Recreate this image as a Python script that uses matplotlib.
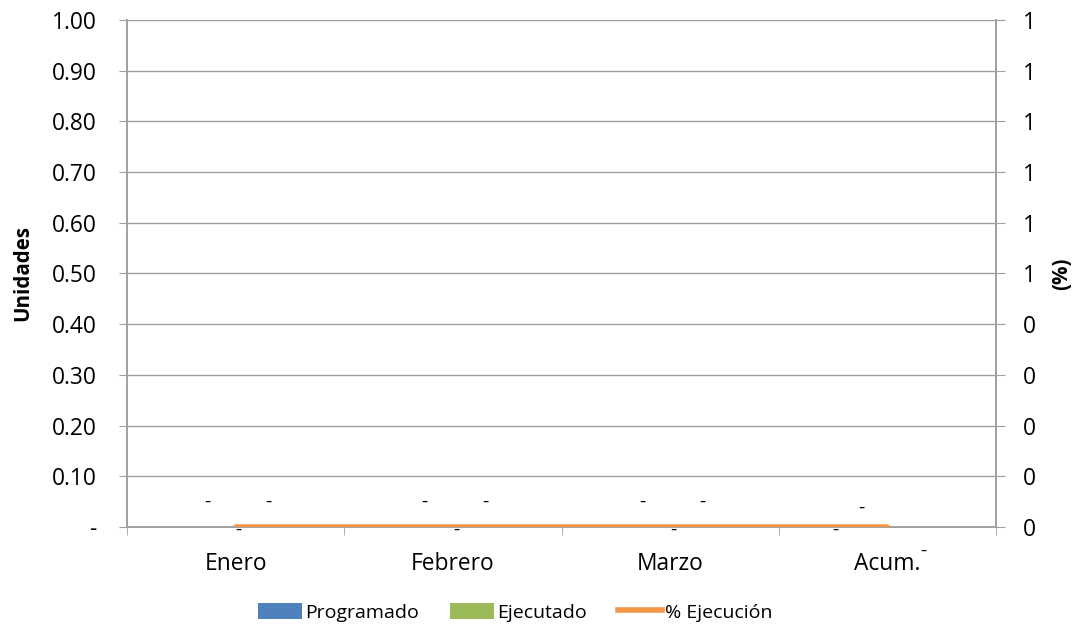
import matplotlib.pyplot as plt
import numpy as np
from matplotlib.patches import Patch
from matplotlib.lines import Line2D
from matplotlib.ticker import FuncFormatter, MultipleLocator

plt.rcParams["font.family"] = ["Open Sans", "DejaVu Sans"]

categories = ["Enero", "Febrero", "Marzo", "Acum."]
programado = [0, 0, 0, 0]
ejecutado = [0, 0, 0, 0]
pct_ejecucion = [0, 0, 0, 0]

BLUE = "#4F81BD"
GREEN = "#9BBB59"
ORANGE = "#F79646"
GRID = "#A0A0A0"
FS = 16.4
FS_LAB = 14.8
FS_LEG = 14

fig = plt.figure(figsize=(10.76, 6.37), dpi=100)
ax = fig.add_axes([0.118, 0.1727, 0.8077, 0.7959])
ax2 = ax.twinx()

x = np.arange(len(categories))
width = 0.28
ax.bar(x - 0.14, programado, width, color=BLUE)
ax.bar(x + 0.14, ejecutado, width, color=GREEN)
ax2.plot(x, pct_ejecucion, color=ORANGE, lw=4, solid_capstyle="round", zorder=5)

ax.set_xlim(-0.5, 3.5)
ax.set_ylim(0, 1.0)
ax2.set_ylim(0, 1.0)
ax.yaxis.set_major_locator(MultipleLocator(0.1))
ax2.yaxis.set_major_locator(MultipleLocator(0.1))
ax.yaxis.set_major_formatter(FuncFormatter(lambda v, p: "-" if abs(v) < 1e-9 else f"{v:.2f}"))
ax2.yaxis.set_major_formatter(FuncFormatter(lambda v, p: f"{int(v + 0.5)}"))

ax.set_xticks(x)
ax.set_xticklabels(categories)
ax.set_xticks(np.arange(-0.5, 4.0, 1.0), minor=True)
ax.tick_params(axis="x", which="major", length=0, pad=18, labelsize=FS)
ax.tick_params(axis="x", which="minor", length=6, color=GRID, direction="out")
ax.tick_params(axis="y", length=6, color=GRID, labelsize=FS, pad=16)
ax2.tick_params(axis="y", length=6.5, color=GRID, labelsize=FS, pad=13)

ax.grid(axis="y", color=GRID, lw=1)
ax.set_axisbelow(True)
for a in (ax, ax2):
    a.spines["top"].set_visible(False)
    for s in ("left", "right", "bottom"):
        a.spines[s].set_color(GRID)
        a.spines[s].set_linewidth(1.2)

ax.set_ylabel("Unidades", fontweight="bold", fontsize=FS_LAB, labelpad=13)
ax2.set_ylabel("(%)", fontweight="bold", fontsize=FS_LAB, rotation=90, labelpad=11)

# data labels (values are zero, so shown as "-")
for i in range(3):
    ax.text(x[i] - 0.13, programado[i] + 0.05, "-", ha="center", va="center", fontsize=FS_LEG)
    ax.text(x[i] + 0.15, ejecutado[i] + 0.05, "-", ha="center", va="center", fontsize=FS_LEG)
    ax.text(x[i] + 0.015, pct_ejecucion[i] - 0.006, "-", ha="center", va="center", fontsize=FS_LEG)
ax.text(x[3] - 0.12, programado[3] + 0.038, "-", ha="center", va="center", fontsize=FS_LEG)
ax.text(x[3] + 0.165, ejecutado[3] - 0.047, "-", ha="center", va="center", fontsize=FS_LEG)
ax.text(x[3] - 0.24, pct_ejecucion[3] - 0.006, "-", ha="center", va="center", fontsize=FS_LEG)

handles = [
    Patch(facecolor=BLUE, edgecolor="none"),
    Patch(facecolor=GREEN, edgecolor="none"),
    Line2D([0], [0], color=ORANGE, lw=4),
]
fig.legend(handles, ["Programado", "Ejecutado", "% Ejecución"], loc="center",
           bbox_to_anchor=(0.479, 0.039), ncol=3, frameon=False, fontsize=FS_LEG,
           handlelength=2.27, handleheight=0.9, handletextpad=0.15, columnspacing=1.6)

fig.savefig("out.png", dpi=100)
